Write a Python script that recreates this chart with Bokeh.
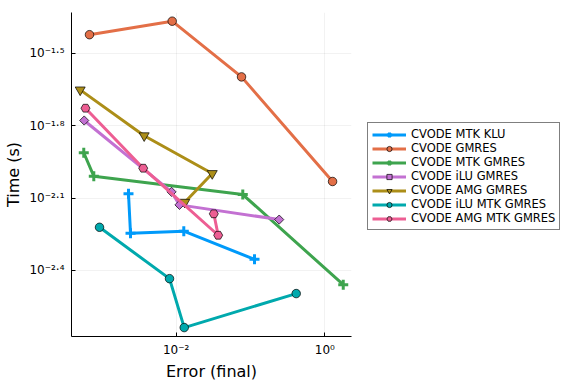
from bokeh.plotting import figure
from bokeh.models import Range1d, FixedTicker, Legend, LegendItem
from bokeh.layouts import row
from bokeh.embed import file_html
from bokeh.resources import INLINE
import math

# ---- data ----
series_names = ["CVODE MTK KLU", "CVODE GMRES", "CVODE MTK GMRES", "CVODE iLU GMRES",
                "CVODE AMG GMRES", "CVODE iLU MTK GMRES", "CVODE AMG MTK GMRES"]

klu_err = [0.002280, 0.002427, 0.01265, 0.1132]
klu_time = [0.008279, 0.005675, 0.005794, 0.004426]

gmres_err = [0.0006808, 0.008831, 0.07568, 1.271]
gmres_time = [0.03784, 0.04305, 0.02529, 0.009311]

mtk_gmres_err = [0.0005702, 0.000778, 0.0787, 1.770]
mtk_gmres_time = [0.01225, 0.009795, 0.008222, 0.003475]

ilu_gmres_err = [0.0005781, 0.00865, 0.01107, 0.2432]
ilu_gmres_time = [0.01667, 0.008433, 0.007447, 0.006471]

amg_gmres_err = [0.0005105, 0.003707, 0.03055, 0.01306]
amg_gmres_time = [0.02234, 0.01442, 0.01005, 0.007638]

ilu_mtk_err = [0.000929, 0.008128, 0.01282, 0.4121]
ilu_mtk_time = [0.006012, 0.003681, 0.002307, 0.003192]

amg_mtk_err = [0.0006012, 0.003597, 0.03673, 0.03206]
amg_mtk_time = [0.01875, 0.01057, 0.005572, 0.006839]

x_ticks = [0.01, 1.0]
x_tick_labels = ["10\u207b\u00b2", "10\u2070"]
y_ticks = [0.031623, 0.015849, 0.0079433, 0.0039811]
y_tick_labels = ["10\u207b\u00b9\u00b7\u2075", "10\u207b\u00b9\u00b7\u2078",
                 "10\u207b\u00b2\u00b7\u00b9", "10\u207b\u00b2\u00b7\u2074"]

colors = ["#009AFA", "#E36F47", "#3EA44E", "#C371D2", "#AC8E18", "#00A9AD", "#ED5E93"]
markers = ["cross", "circle", "cross", "square", "inverted_triangle", "circle", "hex"]

all_err = [klu_err, gmres_err, mtk_gmres_err, ilu_gmres_err, amg_gmres_err, ilu_mtk_err, amg_mtk_err]
all_time = [klu_time, gmres_time, mtk_gmres_time, ilu_gmres_time, amg_gmres_time, ilu_mtk_time, amg_mtk_time]

FONT = "DejaVu Sans"

x0, x1 = 10 ** -3.409, 10 ** 0.359
y0, y1 = 10 ** -2.674, 10 ** -1.330

p = figure(width=359, height=384, x_axis_type="log", y_axis_type="log",
           x_range=Range1d(x0, x1), y_range=Range1d(y0, y1),
           output_backend="svg", toolbar_location=None,
           min_border_left=71, min_border_right=8, min_border_top=12, min_border_bottom=48)
p.outline_line_color = None
p.background_fill_color = "white"
p.border_fill_color = "white"

for ax, ticks, labels in ((p.xaxis[0], x_ticks, x_tick_labels), (p.yaxis[0], y_ticks, y_tick_labels)):
    ax.ticker = FixedTicker(ticks=ticks, minor_ticks=[])
    ax.major_label_overrides = {t: s for t, s in zip(ticks, labels)}
    ax.major_label_text_font = FONT
    ax.major_label_text_font_size = "12px"
    ax.major_label_text_color = "black"
    ax.major_tick_in = 4
    ax.major_tick_out = 0
    ax.minor_tick_in = 0
    ax.minor_tick_out = 0
    ax.axis_line_color = "black"
    ax.major_tick_line_color = "black"
    ax.axis_label_text_font = FONT
    ax.axis_label_text_font_size = "16px"
    ax.axis_label_text_font_style = "normal"
    ax.axis_label_text_color = "black"

p.xaxis.axis_label = "Error (final)"
p.yaxis.axis_label = "Time (s)"
p.xaxis.major_label_standoff = 6
p.yaxis.major_label_standoff = 7
p.xaxis.axis_label_standoff = 2
p.yaxis.axis_label_standoff = 3

p.xgrid.ticker = FixedTicker(ticks=x_ticks)
p.ygrid.ticker = FixedTicker(ticks=y_ticks)
for g in (p.xgrid[0], p.ygrid[0]):
    g.grid_line_color = "black"
    g.grid_line_alpha = 0.1
    g.grid_line_width = 0.5
    g.minor_grid_line_color = None


def add_series(fig, ex, tm, c, m):
    lr = fig.line(ex, tm, line_color=c, line_width=3)
    if m == "cross":
        sr = fig.scatter(ex, tm, marker="cross", size=10, line_color=c, line_width=3)
    elif m == "square":
        sr = fig.scatter(ex, tm, marker="square", size=6.5, angle=math.pi / 4,
                         fill_color=c, line_color="black", line_width=0.7)
    elif m == "inverted_triangle":
        sr = fig.scatter(ex, tm, marker="inverted_triangle", size=10,
                         fill_color=c, line_color="black", line_width=0.7)
    elif m == "hex":
        sr = fig.scatter(ex, tm, marker="hex", size=9,
                         fill_color=c, line_color="black", line_width=0.7)
    else:
        sr = fig.scatter(ex, tm, marker="circle", size=8.5,
                         fill_color=c, line_color="black", line_width=0.7)
    return lr, sr


for ex, tm, c, m in zip(all_err, all_time, colors, markers):
    add_series(p, ex, tm, c, m)

# legend panel to the right of the plot (separate canvas so it is not clipped);
# its ranges lie away from the data so only the legend is visible
lg = figure(width=217, height=384, x_range=Range1d(100, 101), y_range=Range1d(100, 101),
            output_backend="svg", toolbar_location=None,
            min_border_left=0, min_border_right=0, min_border_top=0, min_border_bottom=0)
lg.axis.visible = False
lg.grid.visible = False
lg.outline_line_color = None
lg.background_fill_color = "white"
lg.border_fill_color = "white"

items = []
for name, ex, tm, c, m in zip(series_names, all_err, all_time, colors, markers):
    lr, sr = add_series(lg, ex, tm, c, m)
    items.append(LegendItem(label=name, renderers=[lr, sr]))

legend = Legend(items=items, location=(8, 106), margin=0, padding=4, spacing=0,
                label_height=13, glyph_height=13, glyph_width=34, label_standoff=5,
                label_text_font=FONT, label_text_font_size="11.5px", label_text_color="black",
                border_line_color="black", border_line_width=1, background_fill_color="white",
                background_fill_alpha=1.0)
lg.add_layout(legend)

layout = row(p, lg, spacing=0)

open("out.html", "w").write(file_html(layout, INLINE))
